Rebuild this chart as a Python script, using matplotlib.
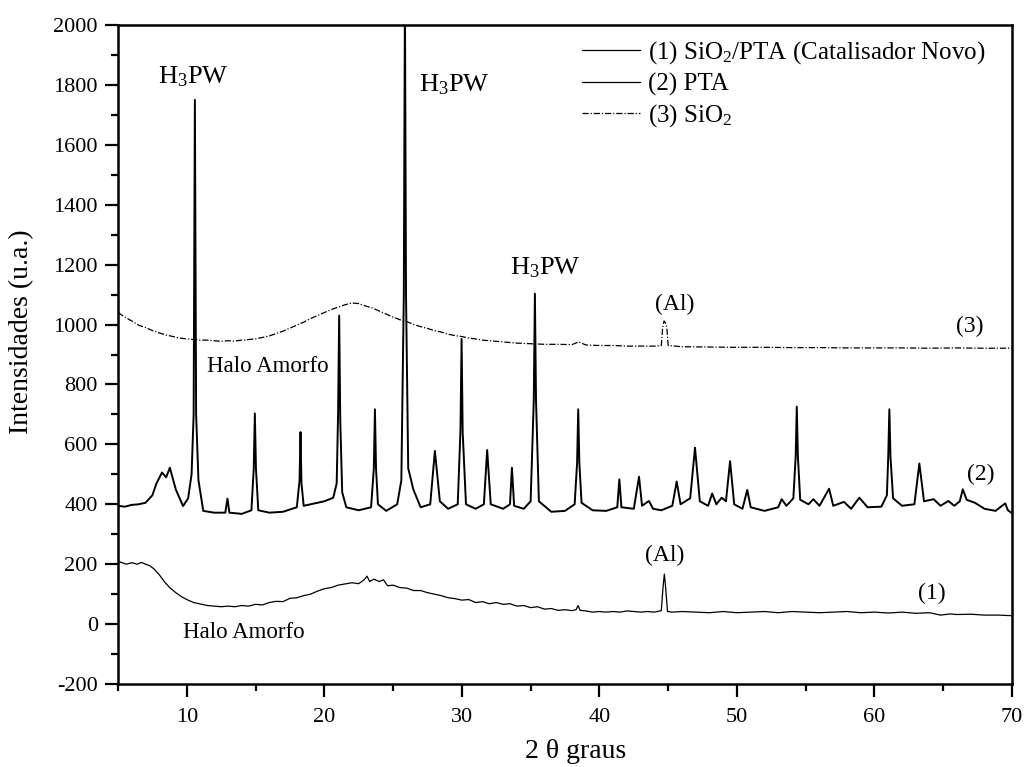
import matplotlib
matplotlib.use("Agg")
import numpy as np
from matplotlib import pyplot as plt

# (1) SiO2/PTA - catalisador novo
cat_2theta = [5.0, 5.3, 5.6, 6.0, 6.4, 6.7, 7.0, 7.3, 7.6, 8.0, 8.4, 8.8, 9.2, 9.6, 10.0,
              10.5, 11.0, 11.5, 12.0, 12.5, 13.0, 13.5, 14.0, 14.5, 15.0, 15.5, 16.0, 16.5,
              17.0, 17.5, 18.0, 18.5, 19.0, 19.5, 20.0, 20.5, 21.0, 21.5, 22.0, 22.5, 22.9,
              23.1, 23.3, 23.6, 24.0, 24.3, 24.6, 25.0, 25.5, 26.0, 26.5, 27.0, 27.5, 28.0,
              28.5, 29.0, 29.5, 30.0, 30.5, 31.0, 31.5, 32.0, 32.5, 33.0, 33.5, 34.0, 34.5,
              35.0, 35.5, 36.0, 36.5, 37.0, 37.5, 38.0, 38.3, 38.45, 38.6, 39.0, 39.5, 40.0,
              40.5, 41.0, 41.5, 42.0, 42.5, 43.0, 43.5, 44.0, 44.5, 44.62, 44.72, 44.82, 44.95,
              45.3, 46.0, 47.0, 48.0, 49.0, 50.0, 51.0, 52.0, 53.0, 54.0, 55.0, 56.0, 57.0,
              58.0, 59.0, 60.0, 61.0, 62.0, 63.0, 64.0, 64.8, 65.5, 66.0, 67.0, 68.0, 69.0, 70.0]
cat_counts = [210, 205, 200, 205, 200, 206, 200, 195, 185, 165, 140, 120, 105, 92, 82,
              72, 67, 62, 60, 58, 60, 58, 62, 60, 66, 64, 72, 76,
              75, 86, 88, 95, 100, 110, 118, 122, 130, 134, 138, 135, 148,
              160, 142, 150, 142, 148, 128, 130, 122, 120, 112, 112, 105, 100,
              95, 88, 85, 80, 82, 72, 75, 68, 72, 66, 68, 60, 62,
              55, 58, 50, 52, 46, 48, 45, 48, 62, 46, 44, 40, 42,
              40, 42, 40, 44, 42, 40, 42, 40, 45, 120, 167, 120, 42,
              40, 42, 40, 38, 42, 38, 40, 42, 38, 42, 40, 38, 40,
              42, 38, 40, 37, 40, 36, 38, 30, 34, 32, 33, 30, 30, 28]

# (2) PTA
pta_2theta = [5.0, 5.5, 6.0, 6.5, 7.0, 7.5, 7.8, 8.2, 8.5, 8.77, 9.2, 9.73, 10.1, 10.35, 10.5,
              10.59, 10.68, 10.85, 11.2, 12.0, 12.8, 12.96, 13.1, 14.0, 14.7, 14.87, 14.95,
              15.03, 15.2, 16.0, 17.0, 18.0, 18.2, 18.27, 18.34, 18.5, 19.0, 20.0, 20.65, 20.9,
              21.0, 21.08, 21.16, 21.3, 21.6, 22.5, 23.4, 23.6, 23.68, 23.76, 23.9, 24.5, 25.3,
              25.6, 25.78, 25.86, 25.94, 26.1, 26.47, 27.0, 27.7, 28.04, 28.4, 29.0, 29.7, 29.9,
              29.98, 30.06, 30.3, 31.0, 31.6, 31.84, 32.1, 33.0, 33.5, 33.64, 33.8, 34.5, 35.0,
              35.23, 35.31, 35.39, 35.6, 36.5, 37.5, 38.2, 38.38, 38.46, 38.54, 38.7, 39.5, 40.5,
              41.3, 41.45, 41.6, 42.5, 42.88, 43.1, 43.6, 43.9, 44.5, 45.3, 45.62, 45.9, 46.6,
              46.95, 47.3, 47.9, 48.2, 48.5, 48.89, 49.2, 49.5, 49.8, 50.4, 50.75, 51.0, 52.0,
              53.0, 53.25, 53.6, 54.1, 54.27, 54.35, 54.43, 54.6, 55.2, 55.55, 56.0, 56.7, 57.0,
              57.78, 58.3, 58.9, 59.5, 60.5, 60.9, 61.0, 61.08, 61.16, 61.35, 62.0, 62.9, 63.26,
              63.6, 64.3, 64.8, 65.37, 65.8, 66.2, 66.42, 66.7, 67.3, 68.0, 68.8, 69.5, 69.7, 70.0]
pta_counts = [395, 392, 398, 400, 405, 430, 470, 506, 490, 522, 450, 394, 420, 500, 700,
              1750, 700, 480, 378, 372, 372, 419, 372, 368, 380, 520, 703,
              520, 380, 372, 375, 390, 480, 641, 470, 395, 400, 410, 422, 470,
              700, 1030, 680, 440, 390, 380, 390, 520, 717, 520, 400, 378, 400,
              480, 1100, 2100, 1100, 520, 450, 390, 400, 578, 410, 385, 400, 650,
              952, 640, 400, 385, 400, 581, 400, 385, 400, 522, 395, 385, 410,
              750, 1103, 750, 410, 375, 378, 400, 540, 717, 540, 405, 380, 378,
              390, 483, 390, 385, 492, 395, 411, 385, 380, 395, 476, 400, 420,
              589, 410, 395, 436, 400, 422, 410, 544, 400, 385, 448, 390, 378,
              390, 417, 395, 420, 560, 726, 560, 415, 400, 417, 395, 452, 395,
              408, 385, 422, 390, 392, 430, 560, 717, 560, 420, 395, 400, 536,
              410, 417, 395, 411, 395, 410, 450, 415, 405, 385, 378, 403, 380, 370]

# (3) SiO2
sio2_2theta = [5.0, 5.5, 6.0, 6.5, 7.0, 7.5, 8.0, 8.5, 9.0, 9.5, 10.0, 10.5, 11.0, 11.5, 12.0,
               12.5, 13.0, 13.5, 14.0, 14.5, 15.0, 15.5, 16.0, 16.5, 17.0, 17.5, 18.0, 18.5,
               19.0, 19.5, 20.0, 20.5, 21.0, 21.5, 22.0, 22.5, 23.0, 23.5, 24.0, 24.5, 25.0,
               25.5, 26.0, 26.5, 27.0, 27.5, 28.0, 28.5, 29.0, 29.5, 30.0, 30.5, 31.0, 31.5,
               32.0, 33.0, 34.0, 35.0, 36.0, 37.0, 38.0, 38.5, 39.0, 40.0, 41.0, 42.0, 43.0,
               44.0, 44.5, 44.6, 44.7, 44.8, 44.9, 45.0, 46.0, 48.0, 50.0, 52.0, 54.0, 56.0,
               58.0, 60.0, 62.0, 64.0, 66.0, 68.0, 70.0]
sio2_counts = [1040, 1025, 1012, 998, 990, 980, 972, 965, 960, 955, 952, 950, 948, 948, 946,
               944, 946, 945, 948, 950, 952, 957, 962, 970, 978, 988, 998, 1008,
               1020, 1030, 1040, 1050, 1058, 1066, 1072, 1070, 1062, 1055, 1045, 1035, 1025,
               1016, 1010, 1000, 993, 987, 980, 975, 968, 963, 960, 955, 952, 948,
               946, 942, 938, 936, 934, 934, 933, 942, 932, 930, 930, 928, 928,
               928, 930, 990, 1012, 1005, 990, 930, 926, 925, 924, 924, 923, 923,
               922, 922, 922, 921, 922, 921, 921]

legend_labels = [r"(1) SiO$_2$/PTA (Catalisador Novo)", "(2) PTA", r"(3) SiO$_2$"]

plt.rcParams["font.family"] = ["Liberation Serif", "DejaVu Serif"]
plt.rcParams["mathtext.fontset"] = "custom"
plt.rcParams["mathtext.rm"] = "Liberation Serif"
plt.rcParams["mathtext.it"] = "Liberation Serif:italic"
plt.rcParams["axes.unicode_minus"] = False

fig = plt.figure(figsize=(10.26, 7.67), dpi=100)
ax = fig.add_axes([0.115, 0.1082, 0.8714, 0.8592])

ax.plot(cat_2theta, cat_counts, color="black", lw=0.9, label=legend_labels[0])
ax.plot(pta_2theta, pta_counts, color="black", lw=1.4, label=legend_labels[1])
ax.plot(sio2_2theta, sio2_counts, color="black", lw=0.9, ls=(0, (5, 1.5, 1, 1.5)),
        label=legend_labels[2])

ax.set_xlim(5, 70)
ax.set_ylim(-200, 2000)
ax.set_xticks(np.arange(10, 71, 10))
ax.set_xticks(np.arange(5, 71, 5), minor=True)
ax.set_yticks(np.arange(-200, 2001, 200))
ax.set_yticks(np.arange(-200, 2001, 100), minor=True)

ax.tick_params(which="major", direction="out", length=9.5, width=1.6, labelsize=16)
ax.tick_params(axis="x", which="major", pad=8)
ax.tick_params(axis="y", which="major", pad=5)
ax.tick_params(which="minor", direction="out", length=5, width=1.6)
ax.tick_params(top=False, right=False, which="both")
for s in ax.spines.values():
    s.set_linewidth(1.8)

ax.set_xlabel("2 θ graus", fontsize=20)
ax.set_ylabel("Intensidades (u.a.)", fontsize=20)
ax.xaxis.set_label_coords(0.512, -0.083)
ax.yaxis.set_label_coords(-0.094, 0.534)

# anotacoes
ax.text(10.5, 1828, r"H$_3$PW", fontsize=19, ha="center", va="center")
ax.text(26.9, 1800, r"H$_3$PW", fontsize=19, ha="left", va="center")
ax.text(36.1, 1189, r"H$_3$PW", fontsize=19, ha="center", va="center")
ax.text(45.5, 1067, "(Al)", fontsize=17, ha="center", va="center")
ax.text(44.75, 228, "(Al)", fontsize=17, ha="center", va="center")
ax.text(66.95, 994, "(3)", fontsize=17, ha="center", va="center")
ax.text(67.75, 500, "(2)", fontsize=17, ha="center", va="center")
ax.text(64.2, 103, "(1)", fontsize=17, ha="center", va="center")
ax.text(15.9, 859, "Halo Amorfo", fontsize=16.5, ha="center", va="center")
ax.text(14.13, -28, "Halo Amorfo", fontsize=16.5, ha="center", va="center")

leg = ax.legend(loc="upper left", bbox_to_anchor=(0.519, 0.978), frameon=False,
                fontsize=18, handlelength=2.3, handletextpad=0.32, labelspacing=0.25,
                borderpad=0, borderaxespad=0)
for line in leg.get_lines():
    line.set_linewidth(0.9)

fig.savefig("out.png", dpi=100)
